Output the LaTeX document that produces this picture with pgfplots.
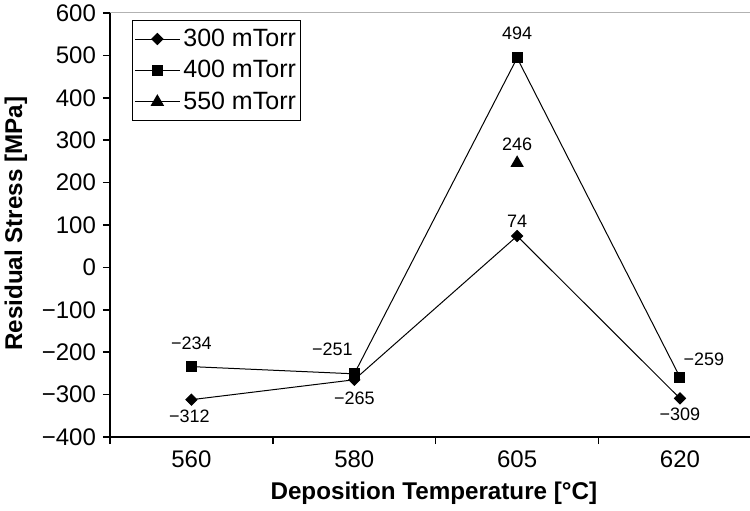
\documentclass[border=0pt]{standalone}
\usepackage{pgfplots}
\pgfplotsset{compat=1.18}
\usepackage{fontspec}
\setmainfont{Liberation Sans}

% 300 mTorr, 400 mTorr, 550 mTorr
\pgfplotstableread{
x y
0 -312
1 -265
2 74
3 -309
}\lowP
\pgfplotstableread{
x y
0 -234
1 -251
2 494
3 -259
}\midP
\pgfplotstableread{
x y
2 246
}\highP

\begin{document}
\begin{tikzpicture}
\begin{axis}[
    scale only axis,
    width=320pt, height=212pt,
    xmin=-0.5, xmax=3.43,
    ymin=-400, ymax=600,
    axis lines*=left,
    xtick={0,1,2,3},
    xticklabels={560,580,605,620},
    major x tick style={draw=none},
    minor xtick={-0.5,0.5,1.5,2.5},
    minor x tick style={black, line width=0.75pt},
    ytick={-400,-300,...,600},
    yticklabels={−400,−300,−200,−100,0,100,200,300,400,500,600},
    tick align=outside,
    major tick length=3.5pt, minor tick length=3.5pt,
    tick style={black, line width=0.75pt},
    axis line style={line width=0.75pt},
    tick label style={font=\fontsize{12}{14}\selectfont},
    xlabel={\textbf{Deposition Temperature [°C]}},
    ylabel={\textbf{Residual Stress [MPa]}},
    label style={font=\fontsize{12.1}{14}\selectfont},
    xlabel style={at={(axis description cs:0.506,-0.132)}, anchor=center},
    ylabel style={at={(axis description cs:-0.147,0.503)}, anchor=center},
    legend style={at={(axis description cs:0.034,0.983)}, anchor=north west,
        font=\fontsize{12.5}{15}\selectfont, draw=black, line width=0.6pt,
        row sep=1.5pt, inner xsep=1pt, inner ysep=2pt,
        nodes={inner xsep=1.5pt}},
    legend cell align=left,
    legend image code/.code={
        \draw[mark repeat=2, mark phase=2, #1] plot coordinates {(0pt,0pt) (11.25pt,0pt) (22.5pt,0pt)};},
    every axis plot/.append style={black, line width=0.5pt},
    clip=false,
    lab/.style 2 args={forget plot, draw=none, mark=none,
        nodes near coords, point meta=explicit symbolic,
        every node near coord/.append style={font=\fontsize{9}{11}\selectfont,
            anchor=center, inner sep=0pt, xshift=#1, yshift=#2}},
]
\addplot[mark=square*, mark size=1.95pt, mark options={rotate=45}] table[x=x, y=y] {\lowP};
\addplot[mark=square*, mark size=2.5pt] table[x=x, y=y] {\midP};
\addplot[mark=triangle*, mark size=3.4pt] table[x=x, y=y] {\highP};
\legend{300 mTorr, 400 mTorr, 550 mTorr}
% data labels
\addplot[lab={-1pt}{-8.5pt}] coordinates {(0,-312) [−312]};
\addplot[lab={0pt}{-9.5pt}] coordinates {(1,-265) [−265]};
\addplot[lab={0pt}{-8pt}] coordinates {(3,-309) [−309]};
\addplot[lab={0pt}{7.5pt}] coordinates {(2,74) [74]};
\addplot[lab={0pt}{11.5pt}] coordinates {(0,-234) [−234]};
\addplot[lab={0pt}{12.5pt}] coordinates {(2,494) [494]};
\addplot[lab={0pt}{9.5pt}] coordinates {(2,246) [246]};
\addplot[lab={-11pt}{12.5pt}] coordinates {(1,-251) [−251]};
\addplot[lab={12pt}{9pt}] coordinates {(3,-259) [−259]};
\draw[gray!60, line width=0.5pt] (rel axis cs:0,1) -- (rel axis cs:1,1);
\end{axis}
\pgfresetboundingbox
\path[use as bounding box] (-55pt,-36.5pt) rectangle (320pt,218.5pt);
\end{tikzpicture}
\end{document}
